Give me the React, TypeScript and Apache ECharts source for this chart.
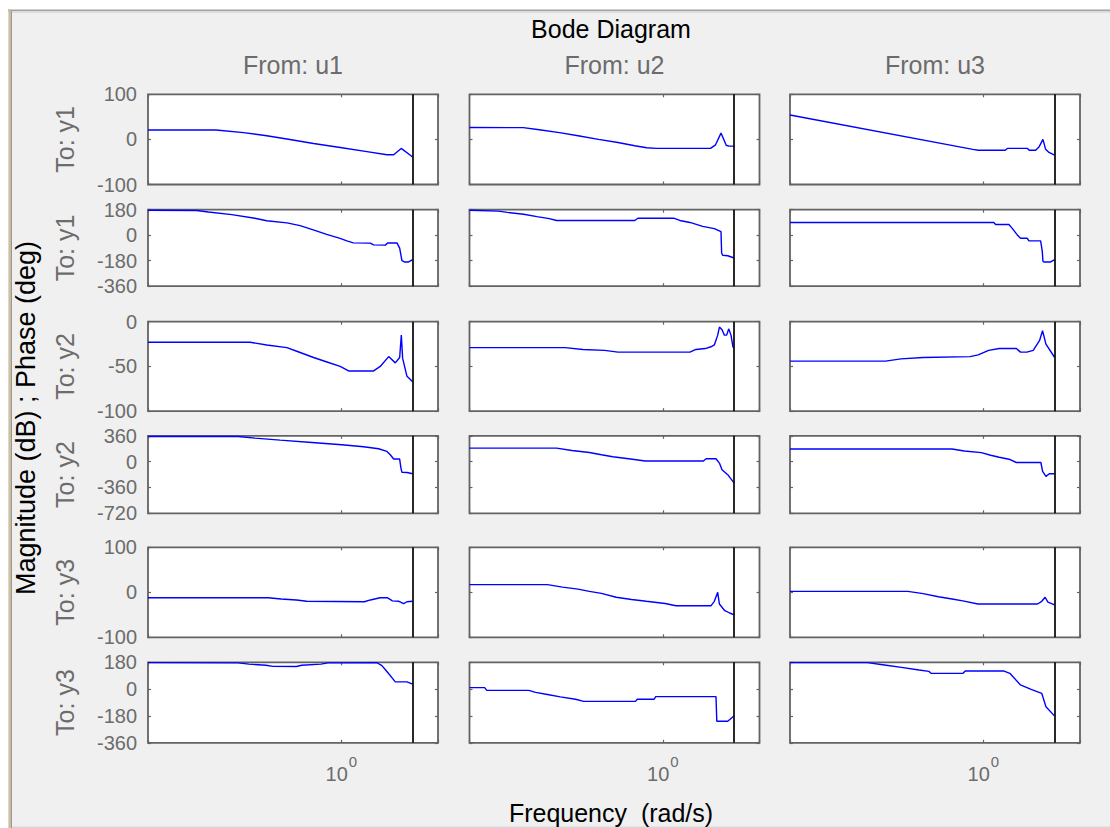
import React, { useEffect, useRef } from 'react';
import * as echarts from 'echarts';

// ---------- data (frequency in rad/s, value in dB or deg) ----------
const X_MIN = 0.2154; // axis lower limit, rad/s
const X_MAX = 2.1544; // axis upper limit, rad/s
const NYQUIST = 1.762; // Nyquist frequency marker, rad/s

const fromLabels = ['From: u1', 'From: u2', 'From: u3'];
const toLabels = ['To: y1', 'To: y1', 'To: y2', 'To: y2', 'To: y3', 'To: y3'];
// [min, max, interval] for each row
const rowRanges = [
  [-100, 100, 100],
  [-360, 180, 180],
  [-100, 0, 50],
  [-720, 360, 360],
  [-100, 100, 100],
  [-360, 180, 180],
];

// From u1
const magY1U1 = [[0.2154, 21], [0.37, 21], [0.46, 15], [0.553, 8], [0.649, 1], [0.802, -9], [0.991, -18], [1.225, -27], [1.436, -34], [1.515, -34], [1.609, -20], [1.752, -38], [1.762, -39]];
const phY1U1 = [[0.2154, 176], [0.317, 174], [0.348, 164], [0.419, 145], [0.503, 120], [0.553, 102], [0.649, 87], [0.721, 68], [0.8, 38], [0.89, 6], [0.99, -22], [1.045, -40], [1.1, -54], [1.258, -56], [1.292, -68], [1.418, -70], [1.444, -55], [1.555, -54], [1.589, -91], [1.618, -180], [1.649, -189], [1.706, -189], [1.762, -172]];
const magY2U1 = [[0.2154, -23], [0.485, -23], [0.553, -26], [0.649, -29], [0.702, -33], [0.802, -40], [0.892, -45], [0.991, -50], [1.059, -55], [1.292, -55], [1.362, -50], [1.456, -39], [1.535, -46], [1.589, -40], [1.61, -15], [1.627, -41], [1.684, -61], [1.762, -67]];
const phY2U1 = [[0.2154, 350], [0.44, 350], [0.504, 328], [0.615, 300], [0.791, 267], [1.004, 235], [1.193, 207], [1.344, 179], [1.436, 142], [1.475, 96], [1.515, 36], [1.589, 36], [1.605, -90], [1.618, -150], [1.684, -152], [1.762, -168]];
const magY3U1 = [[0.2154, -12], [0.56, -12], [0.62, -15], [0.7, -17], [0.76, -20], [1.2, -21], [1.26, -17], [1.36, -12], [1.44, -12], [1.5, -19], [1.58, -20], [1.64, -25], [1.684, -21], [1.762, -20]];
const phY3U1 = [[0.2154, 178], [0.44, 176], [0.48, 168], [0.55, 160], [0.58, 153], [0.7, 152], [0.73, 160], [0.85, 168], [0.9, 176], [1.327, 177], [1.38, 158], [1.436, 118], [1.535, 49], [1.684, 49], [1.762, 33]];

// From u2
const magY1U2 = [[0.2154, 26.5], [0.33, 26], [0.375, 21.5], [0.44, 15], [0.51, 8], [0.6, 0], [0.7, -7], [0.8, -14], [0.88, -18.5], [0.95, -20], [1.46, -20], [1.52, -12], [1.587, 14], [1.654, -13], [1.69, -15], [1.762, -15]];
const phY1U2 = [[0.2154, 176], [0.271, 170], [0.291, 161], [0.331, 148], [0.368, 131], [0.406, 117], [0.43, 104], [0.8, 104], [0.82, 120], [1.09, 120], [1.144, 104], [1.24, 90], [1.371, 62], [1.505, 46], [1.587, 25], [1.595, -126], [1.608, -142], [1.674, -145], [1.762, -161]];
const magY2U2 = [[0.2154, -29], [0.46, -29], [0.53, -31], [0.63, -32], [0.7, -34], [1.24, -34], [1.3, -31], [1.4, -30], [1.465, -28], [1.505, -26], [1.546, -15], [1.567, -6], [1.6, -9], [1.63, -15], [1.66, -15], [1.687, -8], [1.718, -15], [1.745, -28], [1.762, -30]];
const phY2U2 = [[0.2154, 188], [0.43, 188], [0.486, 156], [0.558, 128], [0.614, 96], [0.672, 68], [0.774, 36], [0.87, 8], [1.38, 8], [1.41, 40], [1.525, 40], [1.567, -20], [1.6, -113], [1.674, -182], [1.762, -300]];
const magY3U2 = [[0.2154, 17], [0.4, 17], [0.451, 11.5], [0.51, 7], [0.558, 2], [0.614, -2.5], [0.69, -11], [0.78, -16], [0.877, -20], [1.018, -25], [1.11, -30], [1.465, -30], [1.505, -20], [1.546, 0], [1.567, -26], [1.63, -40], [1.7, -46], [1.762, -50]];
const phY3U2 = [[0.2154, 10], [0.243, 10], [0.247, -8], [0.345, -8], [0.364, -22], [0.4, -36], [0.443, -52], [0.5, -68], [0.533, -82], [0.805, -82], [0.816, -68], [0.932, -68], [0.945, -50], [1.525, -50], [1.535, -215], [1.674, -215], [1.762, -178]];

// From u3
const magY1U3 = [[0.2154, 54], [0.92, -22], [0.96, -24], [1.19, -24], [1.21, -20], [1.42, -20], [1.44, -24], [1.515, -24], [1.555, -17], [1.605, 0], [1.64, -22], [1.684, -29], [1.762, -35]];
const phY1U3 = [[0.2154, 90], [1.087, 90], [1.102, 76], [1.225, 76], [1.258, 48], [1.309, 2], [1.344, -22], [1.418, -22], [1.436, -40], [1.576, -40], [1.597, -114], [1.605, -184], [1.618, -189], [1.706, -189], [1.762, -172]];
const magY2U3 = [[0.2154, -44], [0.46, -44], [0.52, -41.5], [0.62, -40], [0.9, -39], [0.96, -37], [1.043, -32], [1.134, -30], [1.3, -30], [1.343, -34], [1.413, -34], [1.486, -32], [1.563, -21], [1.6, -10], [1.644, -25], [1.762, -40]];
const phY2U3 = [[0.2154, 176], [0.78, 176], [0.86, 149], [0.984, 126], [1.06, 89], [1.134, 61], [1.226, 34], [1.3, -12], [1.579, -12], [1.601, -136], [1.644, -205], [1.689, -169], [1.762, -169]];
const magY3U3 = [[0.2154, 2], [0.549, 2], [0.62, -3], [0.7, -10], [0.78, -15], [0.85, -19], [0.958, -26], [1.537, -26], [1.59, -20], [1.633, -11], [1.67, -22], [1.762, -28]];
const phY3U3 = [[0.2154, 178], [0.398, 178], [0.456, 162], [0.522, 146], [0.6, 128], [0.65, 119], [0.66, 106], [0.851, 106], [0.866, 122], [1.173, 122], [1.234, 106], [1.343, 28], [1.461, -2], [1.59, -28], [1.644, -118], [1.762, -181]];

const cells = [
  [magY1U1, magY1U2, magY1U3],
  [phY1U1, phY1U2, phY1U3],
  [magY2U1, magY2U2, magY2U3],
  [phY2U1, phY2U2, phY2U3],
  [magY3U1, magY3U2, magY3U3],
  [phY3U1, phY3U2, phY3U3],
];

// ---------- layout / style ----------
const FONT = '"Liberation Sans", Arial, Helvetica, sans-serif';
const GREY = '#6c6c6c';
const BOX = '#636363';
const COL_LEFT = [148, 469.5, 790];
const COL_W = 290;
const ROW_TOP = [94.3, 209.7, 321.7, 435.8, 547.3, 662.3];
const ROW_H = [90.2, 76.5, 89.5, 77.5, 90, 80.5];

function textEl(text: string, x: number, y: number, size: number, color: string, rotate = false) {
  return {
    type: 'text',
    x,
    y,
    rotation: rotate ? Math.PI / 2 : 0,
    silent: true,
    style: {
      text,
      fill: color,
      font: `${size}px ${FONT}`,
      align: 'center',
      verticalAlign: 'middle',
      textAlign: 'center',
      textVerticalAlign: 'middle',
    },
  };
}

function buildOption() {
  const grid: any[] = [];
  const xAxis: any[] = [];
  const yAxis: any[] = [];
  const series: any[] = [];
  const tick = { show: true, inside: true, length: 3, lineStyle: { color: BOX, width: 1.2 } };

  for (let r = 0; r < 6; r++) {
    for (let c = 0; c < 3; c++) {
      const gi = r * 3 + c;
      grid.push({
        left: COL_LEFT[c],
        top: ROW_TOP[r],
        width: COL_W,
        height: ROW_H[r],
        show: true,
        backgroundColor: '#ffffff',
        borderColor: BOX,
        borderWidth: 1.8,
        containLabel: false,
      });
      const xBase = {
        gridIndex: gi,
        type: 'log',
        logBase: 10,
        min: X_MIN,
        max: X_MAX,
        axisLine: { show: false, onZero: false },
        axisTick: tick,
        splitLine: { show: false },
        minorTick: { show: false },
      };
      xAxis.push({
        ...xBase,
        position: 'bottom',
        axisLabel:
          r === 5
            ? {
                show: true,
                margin: 11,
                color: GREY,
                fontFamily: FONT,
                formatter: (v: number) => {
                  const e = Math.log10(v);
                  return Math.abs(e - Math.round(e)) < 1e-6 ? `{b|10}{s|${Math.round(e)}}` : '';
                },
                rich: {
                  b: { fontSize: 20, fontFamily: FONT, color: GREY },
                  s: { fontSize: 15, fontFamily: FONT, color: GREY, padding: [0, 0, 26, 1] },
                },
              }
            : { show: false },
      });
      xAxis.push({ ...xBase, position: 'top', axisLabel: { show: false } });

      const [mn, mx, iv] = rowRanges[r];
      const yBase = {
        gridIndex: gi,
        type: 'value',
        min: mn,
        max: mx,
        interval: iv,
        axisLine: { show: false, onZero: false },
        axisTick: tick,
        splitLine: { show: false },
      };
      yAxis.push({
        ...yBase,
        position: 'left',
        axisLabel:
          c === 0
            ? { show: true, margin: 11, color: GREY, fontSize: 20, fontFamily: FONT }
            : { show: false },
      });
      yAxis.push({ ...yBase, position: 'right', axisLabel: { show: false } });

      series.push({
        type: 'line',
        xAxisIndex: gi * 2,
        yAxisIndex: gi * 2,
        data: cells[r][c],
        showSymbol: false,
        symbol: 'none',
        clip: true,
        lineStyle: { color: '#0000ff', width: 1.4 },
        markLine: {
          silent: true,
          symbol: ['none', 'none'],
          label: { show: false },
          lineStyle: { color: '#111111', width: 1.8, type: 'solid' },
          data: [{ xAxis: NYQUIST }],
        },
      });
    }
  }

  const graphic: any[] = [
    { type: 'rect', silent: true, shape: { x: 0, y: 0, width: 1110, height: 10 }, style: { fill: '#ffffff' } },
    { type: 'rect', silent: true, shape: { x: 0, y: 0, width: 8, height: 828 }, style: { fill: '#ffffff' } },
    { type: 'rect', silent: true, shape: { x: 8, y: 9.5, width: 1102, height: 1.5 }, style: { fill: '#a2a2a2' } },
    { type: 'rect', silent: true, shape: { x: 8, y: 11, width: 1102, height: 2 }, style: { fill: '#dcdcdc' } },
    { type: 'rect', silent: true, shape: { x: 8.5, y: 9.5, width: 2.2, height: 818.5 }, style: { fill: '#cdbf9c' } },
    { type: 'rect', silent: true, shape: { x: 10.7, y: 11, width: 1.3, height: 817 }, style: { fill: '#9c9890' } },
    { type: 'rect', silent: true, shape: { x: 12, y: 826.5, width: 1098, height: 1.5 }, style: { fill: '#d8d8d8' } },
    textEl('Bode Diagram', 611, 29, 25, '#000000'),
    textEl('Frequency  (rad/s)', 611, 812.5, 25, '#000000'),
    textEl('Magnitude (dB) ; Phase (deg)', 26, 418, 27, '#000000', true),
  ];
  fromLabels.forEach((t, c) => graphic.push(textEl(t, COL_LEFT[c] + COL_W / 2, 64.5, 25, GREY)));
  toLabels.forEach((t, r) => graphic.push(textEl(t, 64.5, ROW_TOP[r] + ROW_H[r] / 2, 25, GREY, true)));

  return {
    animation: false,
    backgroundColor: '#f0f0f0',
    grid,
    xAxis,
    yAxis,
    series,
    graphic,
  };
}

export default function App() {
  const ref = useRef<HTMLDivElement>(null);
  useEffect(() => {
    if (!ref.current) return;
    const chart = echarts.init(ref.current, null, { renderer: 'svg' });
    chart.setOption(buildOption() as any);
    return () => chart.dispose();
  }, []);
  return (
    <div
      ref={ref}
      style={{ position: 'absolute', left: 0, top: 0, width: 1110, height: 828 }}
    />
  );
}
